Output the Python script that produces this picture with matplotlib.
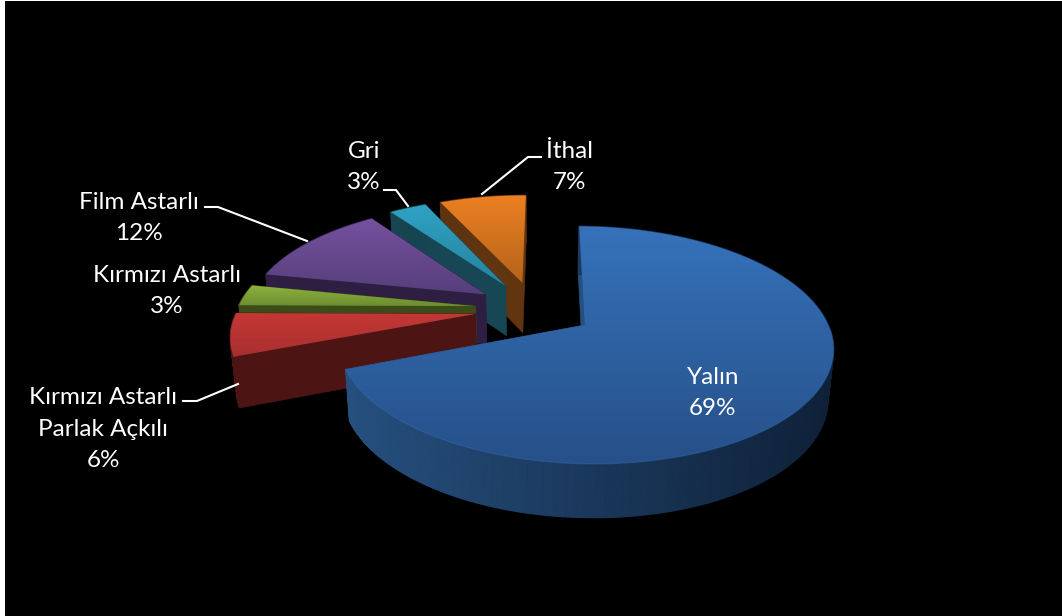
import numpy as np
import matplotlib
matplotlib.use("Agg")
import matplotlib.pyplot as plt
from matplotlib.patches import Polygon, Rectangle

plt.rcParams['font.family'] = ['Lato', 'DejaVu Sans']

# clockwise from 12 o'clock
labels = ["Yalın", "Kırmızı Astarlı\nParlak Açkılı", "Kırmızı Astarlı", "Film Astarlı", "Gri", "İthal"]
values = [69, 6, 3, 12, 3, 7]
top_light = ["#3672ba", "#c43736", "#8db33e", "#75519f", "#30a2c4", "#ec8022"]
top_dark = ["#265089", "#a8302f", "#6c8d30", "#563f7b", "#25839e", "#b5631b"]
side_light = ["#26507f", "#4c1513", "#3c4c18", "#2e1e42", "#174654", "#613510"]
side_dark = ["#0f2139", "#451211", "#364415", "#291a3a", "#133c48", "#54300f"]

label_x = [713, 103, 167, 139, 364, 569]
label_y = [393, 429, 291, 218, 167, 167]
leader_x = [[], [183, 197, 238], [], [205, 218, 307], [384, 396, 408], [541, 528, 482]]
leader_y = [[], [401, 401, 384], [], [207, 207, 241], [190, 190, 206], [157, 157, 194]]

cx, cy = 534.5, 309
rx, ry = 238, 110
persp = 0.165
explode = 0.25
start = 0.5
bottom_shrink = 0.98


def project(x, y):
    s = 1 / (1 + persp * y)
    return cx + rx * x * s, cy - ry * y * s, s


def drop(px, s):
    # bottom face of the slab, a bit narrower and shifted down
    return cx + (px - cx) * bottom_shrink, 34 + 16 * s


def gradient(ax, poly, c1, c2, horizontal=False):
    xy = poly.get_xy()
    x0, x1 = xy[:, 0].min(), xy[:, 0].max()
    y0, y1 = xy[:, 1].min(), xy[:, 1].max()
    rgb1 = np.array(matplotlib.colors.to_rgb(c1))
    rgb2 = np.array(matplotlib.colors.to_rgb(c2))
    t = np.linspace(0, 1, 64)[:, None]
    img = rgb1 + (rgb2 - rgb1) * t
    img = img[None, :, :] if horizontal else img[:, None, :]
    im = ax.imshow(img, extent=(x0, x1, y1, y0), aspect='auto', interpolation='bilinear', zorder=ax.zz)
    ax.add_patch(poly)
    poly.set_facecolor('none')
    poly.set_edgecolor('none')
    im.set_clip_path(poly)
    ax.zz += 1


def draw_slice(ax, a0, a1, col):
    mid = np.radians((a0 + a1) / 2)
    ox, oy = explode * np.sin(mid), explode * np.cos(mid)
    th = np.radians(np.linspace(a0, a1, max(int(a1 - a0) * 2, 12)))
    ax_, ay_, as_ = project(ox, oy)
    rimx, rimy, rims = project(ox + np.sin(th), oy + np.cos(th))

    # the two cut faces
    for px, py, ps in [(rimx[0], rimy[0], rims[0]), (rimx[-1], rimy[-1], rims[-1])]:
        bx, bd = drop(px, ps)
        ax0, ad = drop(ax_, as_)
        face = [(ax_, ay_), (px, py), (bx, py + bd), (ax0, ay_ + ad)]
        ax.add_patch(Polygon(face, closed=True, fc=side_light[col], ec=side_light[col], lw=0.5, zorder=ax.zz))
        ax.zz += 1

    # outer wall in thin strips
    for j in range(len(th) - 1):
        bx0, bd0 = drop(rimx[j], rims[j])
        bx1, bd1 = drop(rimx[j + 1], rims[j + 1])
        t = (rimx[j] - 340) / 490
        t = min(max(t, 0), 1)
        rgb1 = np.array(matplotlib.colors.to_rgb(side_light[col]))
        rgb2 = np.array(matplotlib.colors.to_rgb(side_dark[col]))
        c = rgb1 + (rgb2 - rgb1) * t
        strip = [(rimx[j], rimy[j]), (rimx[j + 1], rimy[j + 1]),
                 (bx1, rimy[j + 1] + bd1), (bx0, rimy[j] + bd0)]
        ax.add_patch(Polygon(strip, closed=True, fc=c, ec=c, lw=1.0, zorder=ax.zz))
    ax.zz += 1

    # top face
    pts = [(ax_, ay_)] + list(zip(rimx, rimy))
    top = Polygon(pts, closed=True, zorder=ax.zz)
    gradient(ax, top, top_light[col], top_dark[col])
    # soft highlight on the rim
    front = rimy > ay_ + 5
    if front.any():
        ax.plot(rimx[front], rimy[front], color=top_light[col], lw=1.0, alpha=0.35,
                solid_capstyle='round', zorder=ax.zz)
        ax.zz += 1


fig = plt.figure(figsize=(10.62, 6.16), dpi=100, facecolor='white')
ax = fig.add_axes([0, 0, 1, 1])
ax.zz = 2
ax.axis('off')
ax.add_patch(Rectangle((5, 1), 1057, 615, fc='black', ec='none', zorder=1))

angles = np.cumsum([0] + values) / sum(values) * 360 + start
# far slices first so the near ones paint over them
for i in [5, 4, 3, 2, 1, 0]:
    draw_slice(ax, angles[i], angles[i + 1], i)

for i in range(len(labels)):
    ax.text(label_x[i], label_y[i], "%s\n%d%%" % (labels[i], values[i]), color='white', fontsize=17.5,
            ha='center', va='center', linespacing=1.64, multialignment='center', zorder=100)
    if leader_x[i]:
        ax.plot(leader_x[i], leader_y[i], color='white', lw=1.5, zorder=99, solid_joinstyle='miter')

ax.set_xlim(0, 1062)
ax.set_ylim(616, 0)
fig.savefig("out.png", dpi=100, facecolor=fig.get_facecolor())
